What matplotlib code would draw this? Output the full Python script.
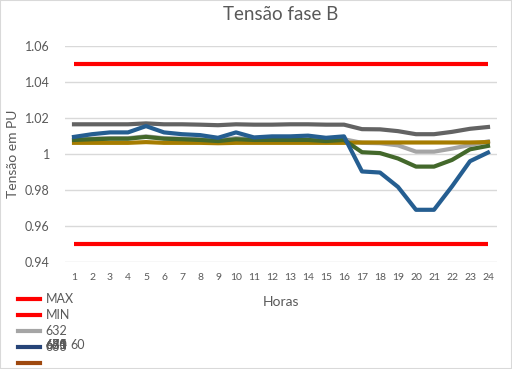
import matplotlib
matplotlib.use("Agg")
import matplotlib.pyplot as plt
from matplotlib.lines import Line2D
from matplotlib.patches import Rectangle

plt.rcParams['font.family'] = ['Lato', 'DejaVu Sans']

hours = list(range(1, 25))
v_max = [1.05] * 24
v_min = [0.95] * 24
v_632 = [1.0085, 1.0085, 1.0088, 1.0088, 1.0098, 1.0088, 1.0085, 1.0082, 1.0078, 1.0088,
         1.0082, 1.0082, 1.0082, 1.0082, 1.0078, 1.0082, 1.0062, 1.006, 1.0048, 1.0013,
         1.0013, 1.003, 1.005, 1.007]
v_dgray = [1.0165, 1.0165, 1.0165, 1.0165, 1.017, 1.0165, 1.0165, 1.0163, 1.016, 1.0165,
           1.0163, 1.0163, 1.0165, 1.0165, 1.0163, 1.0163, 1.0138, 1.0137, 1.0127, 1.011,
           1.011, 1.0123, 1.014, 1.015]
v_gold = [1.0062, 1.0062, 1.0062, 1.0062, 1.0066, 1.0062, 1.0062, 1.0062, 1.006, 1.0062,
          1.0062, 1.0062, 1.0062, 1.0062, 1.0062, 1.0062, 1.0064, 1.0064, 1.0064, 1.0064,
          1.0064, 1.0064, 1.0064, 1.0066]
v_green = [1.0078, 1.0082, 1.0085, 1.0085, 1.0095, 1.0085, 1.0082, 1.0078, 1.0072, 1.0082,
           1.0078, 1.0078, 1.0078, 1.0078, 1.0072, 1.0078, 1.001, 1.0005, 0.9975, 0.993,
           0.993, 0.9967, 1.0026, 1.0045]
v_blue = [1.0095, 1.011, 1.012, 1.012, 1.0155, 1.012, 1.011, 1.0105, 1.009, 1.012,
          1.0092, 1.0098, 1.0098, 1.0102, 1.009, 1.0098, 0.9903, 0.9897, 0.9817, 0.969,
          0.969, 0.982, 0.996, 1.0008]
y_ticks = [0.94, 0.96, 0.98, 1.0, 1.02, 1.04, 1.06]
y_tick_labels = ["0.94", "0.96", "0.98", "1", "1.02", "1.04", "1.06"]

txt = '#595959'
fig = plt.figure(figsize=(5.12, 3.69), dpi=100)
fig.patches.append(Rectangle((0, 0), 1, 1, transform=fig.transFigure, fill=False,
                             edgecolor='#D9D9D9', linewidth=1.5))
ax = fig.add_axes([65/512, 1-262/369, 432/512, 216/369])

lw = 3.0
ax.plot(hours, v_max, color='#FF0000', lw=lw, solid_capstyle='butt', zorder=3)
ax.plot(hours, v_min, color='#FF0000', lw=lw, solid_capstyle='butt', zorder=3)
ax.plot(hours, v_632, color='#A5A5A5', lw=lw, zorder=3)
ax.plot(hours, v_dgray, color='#636363', lw=lw, zorder=4)
ax.plot(hours, v_gold, color='#A67C00', lw=lw, zorder=4)
ax.plot(hours, v_green, color='#43682B', lw=lw, zorder=5)
ax.plot(hours, v_blue, color='#255E91', lw=lw, zorder=6)

ax.set_xlim(0.5, 24.5)
ax.set_ylim(0.94, 1.06)
ax.set_xticks(hours)
ax.set_xticklabels([str(h) for h in hours])
ax.set_yticks(y_ticks)
ax.set_yticklabels(y_tick_labels)
ax.tick_params(axis='both', length=0, colors=txt)
ax.tick_params(axis='y', labelsize=9, pad=11)
ax.tick_params(axis='x', labelsize=7.5, pad=8)
for s in ax.spines.values():
    s.set_visible(False)
ax.grid(axis='y', color='#D9D9D9', lw=1.0, zorder=0)
ax.set_axisbelow(True)

ax.set_title('Tensão fase B', color=txt, fontsize=13.5, pad=19)
ax.set_ylabel('Tensão em PU', color=txt, fontsize=10, labelpad=4)
ax.set_xlabel('Horas', color=txt, fontsize=10, labelpad=10)

handles = [Line2D([], [], color='#FF0000', lw=3),
           Line2D([], [], color='#FF0000', lw=3),
           Line2D([], [], color='#A5A5A5', lw=3),
           Line2D([], [], color='#264478', lw=3),
           Line2D([], [], color='#9E480E', lw=3)]
labels = ['MAX', 'MIN', '632', '633', '']
leg = fig.legend(handles, labels, loc='upper left', bbox_to_anchor=(18/512, 1-293/369),
                 frameon=False, fontsize=9, handlelength=1.75, handletextpad=0.45,
                 labelspacing=0.33, borderaxespad=0, borderpad=0)
for t in leg.get_texts():
    t.set_color(txt)

for lab in ['634', '645', '671', '680']:
    fig.text(45/512, 1-345/369, lab, color=txt, fontsize=9, va='center', ha='left')
fig.text(70/512, 1-345/369, '60', color=txt, fontsize=9, va='center', ha='left')

fig.savefig('out.png', dpi=100)
